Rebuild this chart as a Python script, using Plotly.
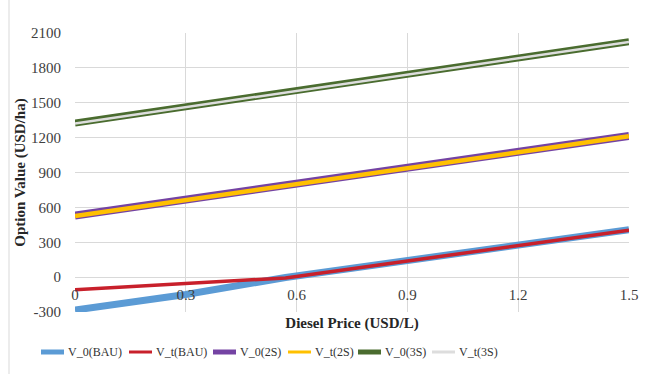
import plotly.graph_objects as go

# Diesel price grid (USD/L) and option values (USD/ha) for each scenario
price_bau = [0, 0.3, 0.57, 0.9, 1.2, 1.5]
v0_bau = [-283, -150, -3, 142, 274, 408]
vt_bau = [-108, -57, -7, 139, 271, 404]

price = [0, 0.3, 0.6, 0.9, 1.2, 1.5]
v0_2s = [530, 667, 804, 941, 1078, 1215]
vt_2s = [526, 663, 800, 937, 1074, 1211]
v0_3s = [1325, 1465, 1605, 1745, 1885, 2025]
vt_3s = [1322, 1462, 1602, 1742, 1882, 2022]

x_ticks = [0, 0.3, 0.6, 0.9, 1.2, 1.5]
x_ticktext = ["0", "0.3", "0.6", "0.9", "1.2", "1.5"]
y_ticks = [-300, 0, 300, 600, 900, 1200, 1500, 1800, 2100]
y_ticktext = ["-300", "0", "300", "600", "900", "1200", "1500", "1800", "2100"]

# name, x, y, colour, plot line width, legend swatch width
series = [
    ("V_0(BAU)", price_bau, v0_bau, "#5B9BD5", 7, 5),
    ("V_t(BAU)", price_bau, vt_bau, "#C8202B", 3.5, 3),
    ("V_0(2S)", price, v0_2s, "#7443A3", 8, 5),
    ("V_t(2S)", price, vt_2s, "#FFC000", 4.5, 3),
    ("V_0(3S)", price, v0_3s, "#4A6C2F", 7, 5),
    ("V_t(3S)", price, vt_3s, "#DDDDDD", 2.5, 3),
]

SERIF = "Liberation Serif"
GRID = "#D9D9D9"
W, H = 653, 374
ML, MR, MT, MB = 75, 24, 33, 62
PW, PH = W - ML - MR, H - MT - MB


def px_to_paper(px, py):
    return (px - ML) / PW, (H - MB - py) / PH


fig = go.Figure()
for name, xs, ys, color, width, _ in series:
    fig.add_trace(go.Scatter(
        x=xs, y=ys, name=name, mode="lines",
        line=dict(color=color, width=width), showlegend=False,
    ))

# Legend row beneath the plot: short line swatch followed by its label
legend_left = [41, 129, 213, 288, 358, 432]
legend_y = 352
swatch_len = 23
shapes = []
annotations = []
for (name, _, _, color, _, sw), left in zip(series, legend_left):
    x0, y0 = px_to_paper(left, legend_y)
    x1, _ = px_to_paper(left + swatch_len, legend_y)
    shapes.append(dict(type="line", xref="paper", yref="paper",
                       x0=x0, x1=x1, y0=y0, y1=y0,
                       line=dict(color=color, width=sw)))
    tx, _ = px_to_paper(left + swatch_len + 2, legend_y)
    annotations.append(dict(text=name, xref="paper", yref="paper",
                            x=tx, y=y0, xanchor="left", yanchor="middle",
                            showarrow=False,
                            font=dict(family=SERIF, size=12, color="#333333")))

# thin frame edge on the left of the chart area
fx, _ = px_to_paper(9, 0)
shapes.append(dict(type="line", xref="paper", yref="paper",
                   x0=fx, x1=fx, y0=px_to_paper(0, H)[1], y1=px_to_paper(0, 0)[1],
                   line=dict(color=GRID, width=1)))

fig.update_layout(
    width=W, height=H,
    margin=dict(l=ML, r=MR, t=MT, b=MB),
    paper_bgcolor="white", plot_bgcolor="white",
    font=dict(family=SERIF, size=15, color="#404040"),
    showlegend=False,
    shapes=shapes,
    annotations=annotations,
    xaxis=dict(
        range=[0, 1.5], tickvals=x_ticks, ticktext=x_ticktext,
        showgrid=True, gridcolor=GRID, gridwidth=1,
        zeroline=False, showline=False, automargin=False,
        anchor="free", position=0.125,
        ticks="outside", ticklen=4, tickcolor="rgba(0,0,0,0)",
        tickfont=dict(family=SERIF, size=15, color="#404040"),
        title=dict(text="<b>Diesel Price (USD/L)</b>",
                   font=dict(family=SERIF, size=15, color="#262626")),
    ),
    yaxis=dict(
        range=[-300, 2100], tickvals=y_ticks, ticktext=y_ticktext,
        showgrid=True, gridcolor=GRID, gridwidth=1,
        zeroline=False, showline=False, automargin=False,
        ticks="outside", ticklen=10, tickcolor="rgba(0,0,0,0)",
        tickfont=dict(family=SERIF, size=15, color="#404040"),
        title=dict(text="<b>Option Value (USD/ha)</b>", standoff=1,
                   font=dict(family=SERIF, size=15, color="#262626")),
    ),
)

fig.write_html("out.html")
